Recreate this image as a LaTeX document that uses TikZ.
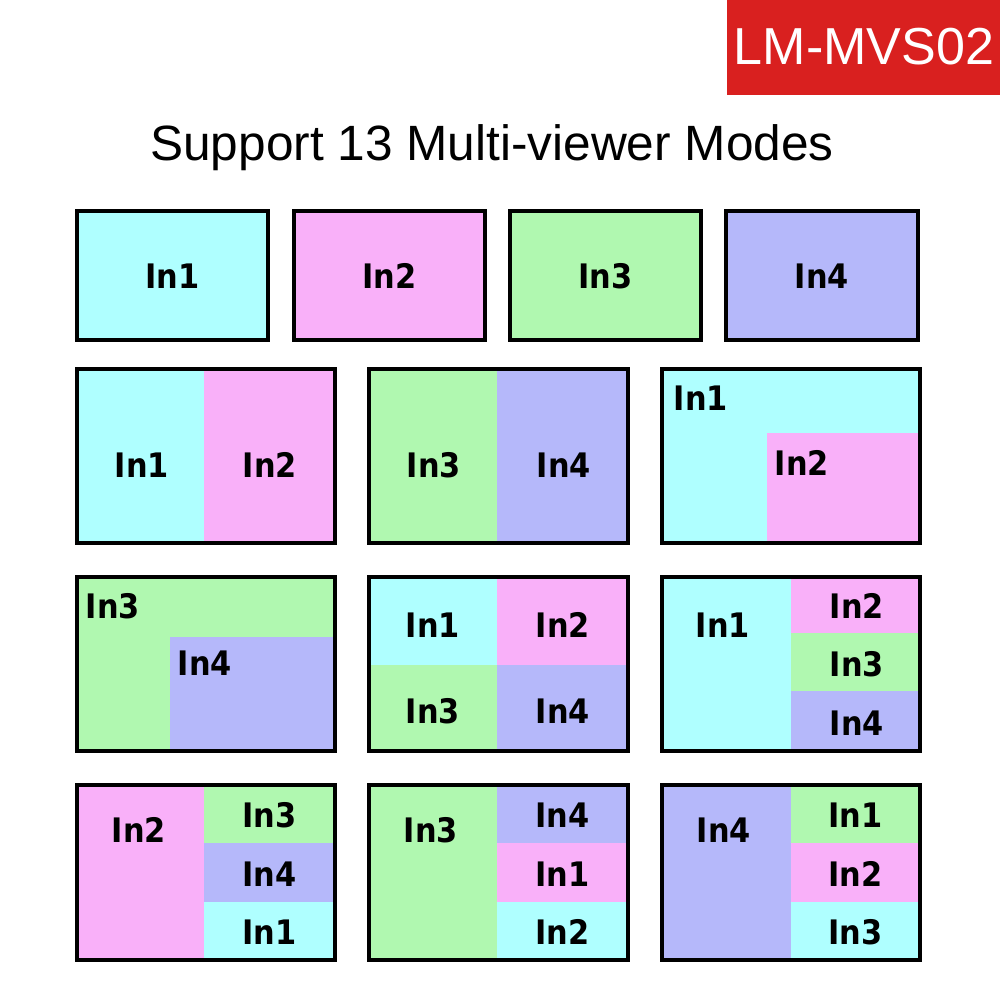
\documentclass[tikz,border=0pt]{standalone}
\usepackage{fontspec}
\setmainfont{Liberation Sans}
\newfontfamily\labfont{DejaVu Sans Condensed}
\definecolor{cin}{HTML}{AFFFFF}
\definecolor{pkin}{HTML}{F9B0F9}
\definecolor{gin}{HTML}{B0F8B0}
\definecolor{bin}{HTML}{B5B8FA}
\definecolor{redtag}{HTML}{D9201F}
\tikzset{
  frame/.style={draw=black, line width=1.1pt},
  lab/.style={font=\labfont\fontsize{9.6}{12}\selectfont\bfseries, text=black},
}
% region: fill colour, corner 1, corner 2
\newcommand{\region}[3]{\fill[#1] (#2) rectangle (#3);}
\begin{document}
\begin{tikzpicture}[x=0.01cm, y=-0.01cm]
  \useasboundingbox (0,0) rectangle (1000,1000);
  % tag and title
  \fill[redtag] (727,0) rectangle (1000,95);
  \node[text=white, font=\fontsize{14.8}{17}\selectfont] (tag) at (864,47) {LM-MVS02};
  \node[font=\fontsize{14.1}{17}\selectfont] (title) at (492,148) {Support 13 Multi-viewer Modes};

  % row 1: single views
  \foreach \xa/\xb/\c/\t in {77/268/cin/In1, 294/485/pkin/In2, 510/701/gin/In3, 726/918/bin/In4} {
    \region{\c}{\xa,211}{\xb,340}
    \draw[frame] (\xa,211) rectangle (\xb,340);
    \node[lab] (s\t) at ({(\xa+\xb)/2},276) {\t};
  }

  % row 2
  \region{cin}{77,369}{204,543} \region{pkin}{204,369}{335,543}
  \draw[frame] (77,369) rectangle (335,543);
  \node[lab] (a1) at (142,465) {In1};
  \node[lab] (a2) at (270,465) {In2};

  \region{gin}{369,369}{497,543} \region{bin}{497,369}{628,543}
  \draw[frame] (369,369) rectangle (628,543);
  \node[lab] (b3) at (434,465) {In3};
  \node[lab] (b4) at (564,465) {In4};

  \region{cin}{662,369}{920,543} \region{pkin}{767,433}{920,543}
  \draw[frame] (662,369) rectangle (920,543);
  \node[lab] (c1) at (701,398) {In1};
  \node[lab] (c2) at (802,463) {In2};

  % row 3
  \region{gin}{77,577}{335,751} \region{bin}{170,637}{335,751}
  \draw[frame] (77,577) rectangle (335,751);
  \node[lab] (d3) at (113,606) {In3};
  \node[lab] (d4) at (205,663) {In4};

  \region{cin}{369,577}{497,665} \region{pkin}{497,577}{628,665}
  \region{gin}{369,665}{497,751} \region{bin}{497,665}{628,751}
  \draw[frame] (369,577) rectangle (628,751);
  \node[lab] (e1) at (433,625) {In1};
  \node[lab] (e2) at (563,625) {In2};
  \node[lab] (e3) at (433,711) {In3};
  \node[lab] (e4) at (563,711) {In4};

  \region{cin}{662,577}{791,751}
  \region{pkin}{791,577}{920,633} \region{gin}{791,633}{920,691} \region{bin}{791,691}{920,751}
  \draw[frame] (662,577) rectangle (920,751);
  \node[lab] (f1) at (723,625) {In1};
  \node[lab] (f2) at (857,606) {In2};
  \node[lab] (f3) at (857,664) {In3};
  \node[lab] (f4) at (857,723) {In4};

  % row 4
  \foreach \xa/\xm/\xb/\big/\bl/\ca/\ta/\cb/\tb/\cc/\tc in {
      77/204/335/pkin/In2/gin/In3/bin/In4/cin/In1,
      369/497/628/gin/In3/bin/In4/pkin/In1/cin/In2,
      662/791/920/bin/In4/gin/In1/pkin/In2/cin/In3} {
    \region{\big}{\xa,785}{\xm,960}
    \region{\ca}{\xm,785}{\xb,843}
    \region{\cb}{\xm,843}{\xb,902}
    \region{\cc}{\xm,902}{\xb,960}
    \draw[frame] (\xa,785) rectangle (\xb,960);
    \node[lab] (m\xa) at ({\xa+62},830) {\bl};
    \node[lab] (p\xa) at ({(\xm+\xb)/2},815) {\ta};
    \node[lab] (q\xa) at ({(\xm+\xb)/2},874) {\tb};
    \node[lab] (r\xa) at ({(\xm+\xb)/2},932) {\tc};
  }
\end{tikzpicture}
\end{document}
